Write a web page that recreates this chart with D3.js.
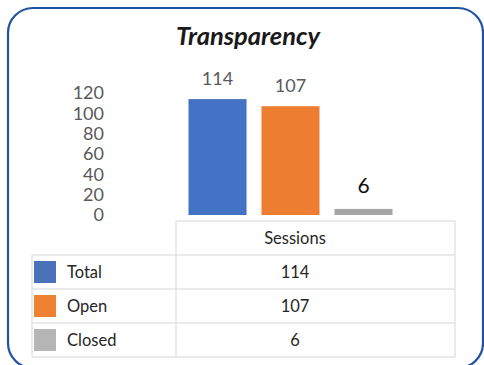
<!DOCTYPE html>
<html>
<head>
<meta charset="utf-8">
<script src="https://cdn.jsdelivr.net/npm/d3@7"></script>
<style>
  html, body { margin: 0; padding: 0; background: #fff; }
  svg { display: block; font-family: Lato, "Open Sans", sans-serif; }
</style>
</head>
<body>
<svg id="chart" width="484" height="365"></svg>
<script>
// Chart data
const title = "Transparency";
const categories = ["Total", "Open", "Closed"];
const sessions = [114, 107, 6];
const seriesName = "Sessions";
const yTicks = [0, 20, 40, 60, 80, 100, 120];

const colors = { Total: "#4472c4", Open: "#ed7d31", Closed: "#a5a5a5" };
const swatch = { Total: "#4a72b8", Open: "#ef8133", Closed: "#b5b5b5" };

const svg = d3.select("#chart");

// Rounded frame
svg.append("rect")
  .attr("x", 8).attr("y", 8)
  .attr("width", 475).attr("height", 360)
  .attr("rx", 25).attr("ry", 25)
  .attr("fill", "#fff")
  .attr("stroke", "#1f52a3")
  .attr("stroke-width", 2.2);

// Title
svg.append("text")
  .attr("x", 248).attr("y", 45)
  .attr("text-anchor", "middle")
  .attr("font-size", 25.5)
  .attr("font-weight", "bold")
  .attr("font-style", "italic")
  .attr("fill", "#1a1a1a")
  .text(title);

// Scales
const y = d3.scaleLinear().domain([0, 120]).range([215, 93]);
const x = d3.scaleBand()
  .domain(categories)
  .range([181, 400])
  .paddingInner(0.205)
  .paddingOuter(0.1027);

// Value axis: labels only, no line or tick marks
const yAxis = d3.axisLeft(y).tickValues(yTicks).tickSize(0).tickPadding(0);
const gy = svg.append("g")
  .attr("transform", "translate(104,0)")
  .call(yAxis);
gy.select(".domain").remove();
gy.selectAll("text")
  .attr("font-family", "Lato, 'Open Sans', sans-serif")
  .attr("font-size", 18)
  .attr("fill", "#595959");

// Bars
const data = categories.map((c, i) => ({ cat: c, value: sessions[i] }));
svg.append("g").selectAll("rect")
  .data(data)
  .join("rect")
  .attr("x", d => x(d.cat))
  .attr("y", d => y(d.value))
  .attr("width", x.bandwidth())
  .attr("height", d => y(0) - y(d.value))
  .attr("fill", d => colors[d.cat]);

// Value labels above bars (the Closed label is set larger and darker)
svg.append("g").selectAll("text")
  .data(data)
  .join("text")
  .attr("x", d => x(d.cat) + x.bandwidth() / 2)
  .attr("y", d => y(d.value) - (d.cat === "Closed" ? 16 : 14))
  .attr("text-anchor", "middle")
  .attr("font-size", d => d.cat === "Closed" ? 21 : 18)
  .attr("fill", d => d.cat === "Closed" ? "#0d0d0d" : "#595959")
  .text(d => d.value);

// Data table beneath the plot
const grid = "#e3e3e3";
const tbl = svg.append("g");
const colL = 32, colM = 176, colR = 455;
const headTop = 221;
const rowY = [255, 289, 323, 357];
const textX = 295;

// horizontal rules
tbl.append("line").attr("x1", colM).attr("x2", colR).attr("y1", headTop).attr("y2", headTop);
rowY.forEach(yy => {
  tbl.append("line").attr("x1", colL).attr("x2", colR).attr("y1", yy).attr("y2", yy);
});
// vertical rules
tbl.append("line").attr("x1", colL).attr("x2", colL).attr("y1", rowY[0]).attr("y2", rowY[3]);
tbl.append("line").attr("x1", colM).attr("x2", colM).attr("y1", headTop).attr("y2", rowY[3]);
tbl.append("line").attr("x1", colR).attr("x2", colR).attr("y1", headTop).attr("y2", rowY[3]);
tbl.selectAll("line").attr("stroke", grid).attr("stroke-width", 1.5);

// header
tbl.append("text")
  .attr("x", textX).attr("y", (headTop + rowY[0]) / 2)
  .attr("dy", "0.35em")
  .attr("text-anchor", "middle")
  .attr("font-size", 16.5)
  .attr("fill", "#262626")
  .text(seriesName);

// rows
data.forEach((d, i) => {
  const top = rowY[i], bot = rowY[i + 1], mid = (top + bot) / 2;
  tbl.append("rect")
    .attr("x", 34).attr("y", mid - 11)
    .attr("width", 22).attr("height", 22)
    .attr("fill", swatch[d.cat]);
  tbl.append("text")
    .attr("x", 67).attr("y", mid).attr("dy", "0.35em")
    .attr("font-size", 16.5)
    .attr("fill", "#262626")
    .text(d.cat);
  tbl.append("text")
    .attr("x", textX).attr("y", mid).attr("dy", "0.35em")
    .attr("text-anchor", "middle")
    .attr("font-size", 16.5)
    .attr("fill", "#262626")
    .text(d.value);
});
</script>
</body>
</html>
